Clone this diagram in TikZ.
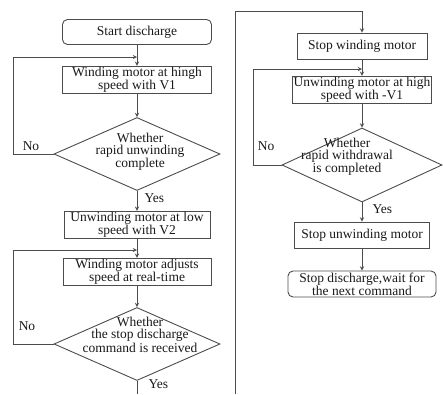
\documentclass[tikz,border=0pt]{standalone}
\usepackage{fontspec}
\setmainfont{Liberation Serif}
\usepackage{tikz}
\usetikzlibrary{shapes.geometric, arrows}

\begin{document}
\begin{tikzpicture}[
            x=1pt, y=-1pt, % pixel-like units, y downwards
            >=stealth,
            every node/.style={font=\fontsize{13.5}{12}\selectfont, text=black!90}, % Serif text everywhere
            proc/.style={rectangle, draw=black!70, line width=0.9pt, inner sep=1pt, align=center, minimum height=25pt}, % Process box
            term/.style={proc, rounded corners=5pt}, % Start / end box
            decision/.style={diamond, draw=black!70, line width=0.9pt, inner sep=0pt, minimum width=166pt, minimum height=73pt}, % Decision
            line/.style={draw=black!70, line width=0.9pt}
            ]
        \useasboundingbox (0,0) rectangle (444,394);

            % Left column
            \node[term, minimum width=149pt] (start) at (137,32) {Start discharge};
            \node[proc, minimum width=149pt] (wind1) at (137,80) {Winding motor at hingh\\speed with V1};
            \node[decision] (dec1) at (137,154) {};
            \node[align=center] (dec1txt) at (140,152) {Whether\\rapid unwinding\\complete};
            \node[proc, minimum width=146pt, minimum height=24pt] (unwind1) at (137,225) {Unwinding motor at low\\speed with V2};
            \node[proc, minimum width=148pt] (wind2) at (137,272) {Winding motor adjusts\\speed at real-time};
            \node[decision] (dec2) at (137,344) {};
            \node[align=center] (dec2txt) at (140,335) {Whether\\the stop discharge\\command is received};

            % Right column
            \node[proc, minimum width=130pt, minimum height=26pt] (stopw) at (362,46) {Stop winding motor};
            \node[proc, minimum width=136pt, minimum height=24pt] (unwind2) at (362,90) {Unwinding motor at high\\speed with -V1};
            \node[decision, minimum width=160pt, minimum height=74pt] (dec3) at (362,165) {};
            \node[align=center] (dec3txt) at (347,157) {Whether\\rapid withdrawal\\is completed};
            \node[proc, minimum width=135pt, minimum height=26pt] (stopu) at (362,235) {Stop unwinding motor};
            \node[term, minimum width=148pt, minimum height=26pt] (stopd) at (362,284) {Stop discharge,wait for\\the next command};

            % Loop points
            \coordinate (join1) at (137,57);
            \coordinate (loop1) at (13,57);
            \coordinate (join2) at (137,250);
            \coordinate (loop2) at (13,250);
            \coordinate (join3) at (362,69);
            \coordinate (loop3) at (253,69);
            \coordinate (out1) at (137,394);
            \coordinate (in1) at (235,394);
            \coordinate (top1) at (235,11);

            % Connectors
            \draw[line,->] (start.south) -- (wind1.north);
            \draw[line,->] (wind1.south) -- (dec1.north);
            \draw[line,->] (dec1.west) -| (loop1) -- (join1);
            \draw[line,->] (dec1.south) -- (unwind1.north);
            \draw[line,->] (unwind1.south) -- (wind2.north);
            \draw[line,->] (wind2.south) -- (dec2.north);
            \draw[line,->] (dec2.west) -| (loop2) -- (join2);
            \draw[line] (dec2.south) -- (out1);

            \draw[line,->] (in1) -- (top1) -| (stopw.north);
            \draw[line,->] (stopw.south) -- (unwind2.north);
            \draw[line,->] (unwind2.south) -- (dec3.north);
            \draw[line,->] (dec3.west) -| (loop3) -- (join3);
            \draw[line,->] (dec3.south) -- (stopu.north);
            \draw[line,->] (stopu.south) -- (stopd.north);

            % Branch labels
            \node (no1) at (31,146) {No};
            \node (no2) at (27,326) {No};
            \node (no3) at (266,146) {No};
            \node[anchor=west] (yes1) at (141,198) {Yes};
            \node[anchor=west] (yes2) at (145,384) {Yes};
            \node[anchor=west] (yes3) at (369,209) {Yes};

        \end{tikzpicture}
\end{document}
